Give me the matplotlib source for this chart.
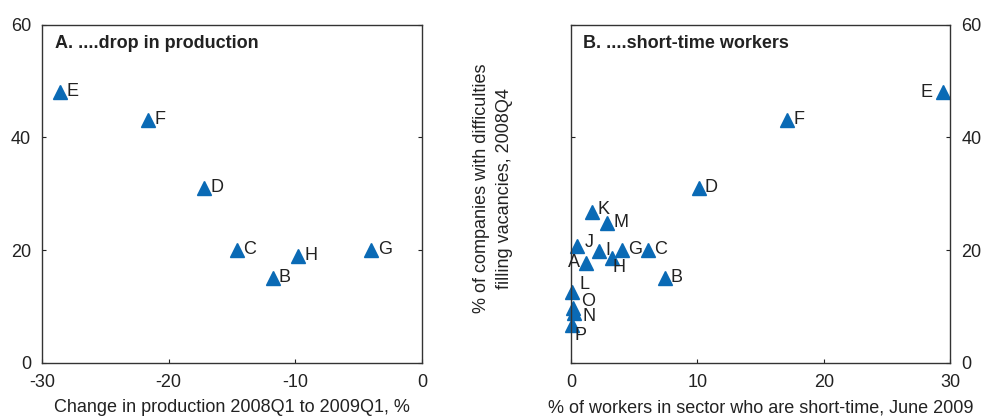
import matplotlib.pyplot as plt

plt.rcParams['font.family'] = ['Liberation Sans', 'DejaVu Sans']

# Panel A: change in production vs vacancy difficulties
prod_labels = ['E', 'F', 'D', 'C', 'B', 'H', 'G']
prod_change = [-28.6, -21.6, -17.2, -14.6, -11.8, -9.8, -4.0]
prod_vac = [48, 43, 31, 20, 15, 19, 20]

# Panel B: short-time workers vs vacancy difficulties
st_labels = ['E', 'F', 'D', 'C', 'B', 'G', 'H', 'I', 'M', 'K', 'J', 'A', 'L', 'O', 'N', 'P']
st_share = [29.4, 17.1, 10.1, 6.1, 7.4, 4.0, 3.25, 2.2, 2.85, 1.65, 0.5, 1.2, 0.1, 0.15, 0.2, 0.1]
st_vac = [48, 43, 31, 20, 15, 20, 18.6, 19.8, 24.8, 26.7, 20.7, 17.8, 12.5, 9.7, 8.8, 6.8]

# label offsets in points (dx, dy, ha) where the default doesn't fit
st_offsets = {'E': (-7, 0, 'right'), 'A': (-4.5, 0, 'right'), 'H': (0.5, -7, 'left'),
              'J': (5, 3, 'left'), 'K': (4, 2, 'left'),
              'L': (5.5, 6, 'left'), 'O': (6, 5, 'left'), 'N': (6.5, -2.5, 'left'),
              'P': (1.5, -7.5, 'left')}

blue = '#0a6ab5'
txt = '#222222'

fig = plt.figure(figsize=(9.82, 4.17), dpi=100)
ax1 = fig.add_axes([0.0428, 0.1295, 0.387, 0.8117])
ax2 = fig.add_axes([0.5815, 0.1295, 0.386, 0.8117])

for ax in (ax1, ax2):
    ax.set_ylim(0, 60)
    ax.set_yticks([0, 20, 40, 60])
    ax.tick_params(direction='in', length=3, width=0.8, labelsize=13, colors=txt,
                   left=True, right=True, pad=8)
    for s in ax.spines.values():
        s.set_color('#333333')
        s.set_linewidth(1.0)

ax1.plot(prod_change, prod_vac, linestyle='none', marker='^', markersize=9.5,
         color=blue, clip_on=False)
for lab, x, y in zip(prod_labels, prod_change, prod_vac):
    ax1.annotate(lab, (x, y), xytext=(4.5, 0.5), textcoords='offset points',
                 fontsize=13, va='center', ha='left', color=txt)
ax1.set_xlim(-30, 0)
ax1.set_xticks([-30, -20, -10, 0])
ax1.set_xticklabels(['-30', '-20', '-10', '0'])
ax1.tick_params(labelleft=True, labelright=False)
ax1.set_xlabel('Change in production 2008Q1 to 2009Q1, %', fontsize=13, labelpad=6,
               color=txt)
ax1.text(0.034, 0.969, 'A. ....drop in production', transform=ax1.transAxes,
         fontsize=13, fontweight='bold', va='top', ha='left', color=txt)

ax2.plot(st_share, st_vac, linestyle='none', marker='^', markersize=9.5,
         color=blue, clip_on=False)
for lab, x, y in zip(st_labels, st_share, st_vac):
    dx, dy, ha = st_offsets.get(lab, (4.5, 0.5, 'left'))
    ax2.annotate(lab, (x, y), xytext=(dx, dy), textcoords='offset points',
                 fontsize=13, va='center', ha=ha, color=txt)
ax2.set_xlim(0, 30)
ax2.set_xticks([0, 10, 20, 30])
ax2.tick_params(labelleft=False, labelright=True)
ax2.set_xlabel('% of workers in sector who are short-time, June 2009', fontsize=13,
               labelpad=6, color=txt)
ax2.set_ylabel('% of companies with difficulties\nfilling vacancies, 2008Q4',
               fontsize=13, va='center', color=txt, linespacing=1.45)
ax2.yaxis.set_label_coords(-0.205, 0.515)
ax2.text(0.032, 0.969, 'B. ....short-time workers', transform=ax2.transAxes,
         fontsize=13, fontweight='bold', va='top', ha='left', color=txt)

fig.savefig('out.png', dpi=100)
